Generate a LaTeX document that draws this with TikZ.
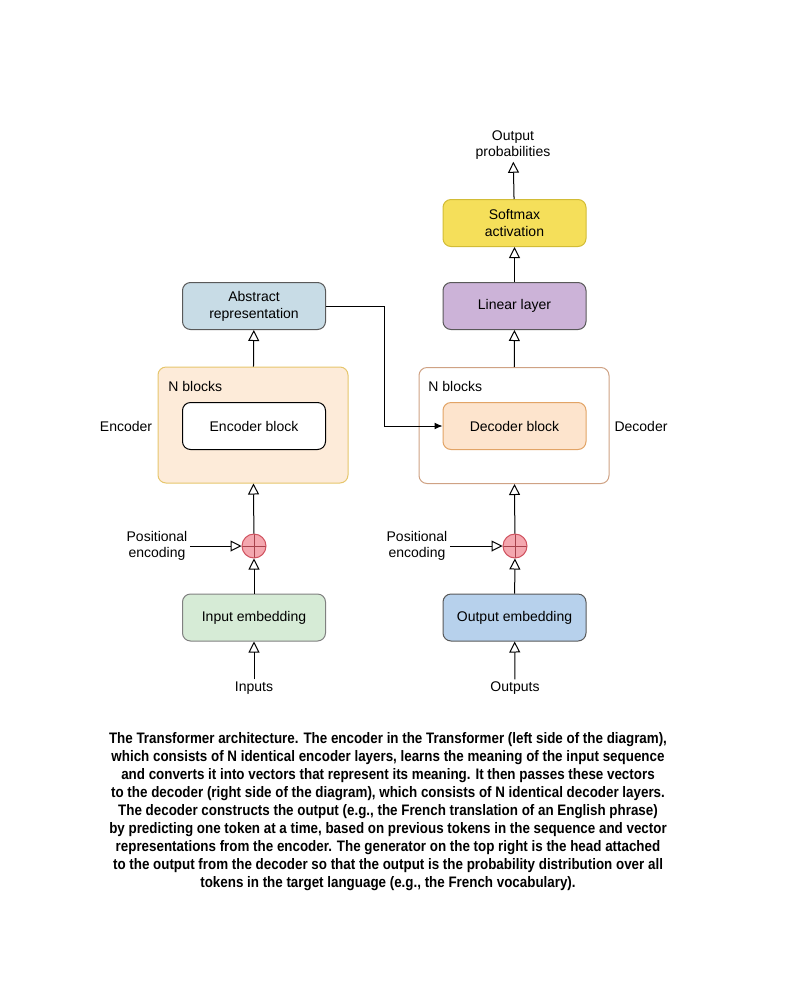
\documentclass[tikz,border=0pt]{standalone}
\usepackage{fontspec}
\setmainfont{Liberation Sans}
\newfontfamily\capfont[FakeStretch=0.88]{Liberation Sans}
\usepackage{tikz}
\usetikzlibrary{shapes,arrows,positioning,calc,arrows.meta}

\definecolor{absfill}{HTML}{C8DCE6}
\definecolor{encfill}{HTML}{FDEBD9}
\definecolor{encline}{HTML}{E6C66C}
\definecolor{decline}{HTML}{CFA284}
\definecolor{blkfill}{HTML}{FDE4CD}
\definecolor{blkline}{HTML}{E2A466}
\definecolor{softfill}{HTML}{F5DF5A}
\definecolor{softline}{HTML}{D2BC36}
\definecolor{linfill}{HTML}{CCB3D8}
\definecolor{inembfill}{HTML}{D6EBD6}
\definecolor{outembfill}{HTML}{B7D1EC}
\definecolor{addfill}{HTML}{F4A7AF}
\definecolor{addline}{HTML}{D0525F}

\tikzset{
    layer/.style={draw=black!65, rounded corners=4pt, minimum width=71.5pt, minimum height=23.5pt, align=center, font=\fontsize{7}{8.5}\selectfont, line width=0.5pt},
    stack/.style={rounded corners=4pt, minimum width=95pt, minimum height=58pt, line width=0.5pt},
    lbl/.style={align=center, font=\fontsize{7}{8}\selectfont, inner sep=1pt},
    adder/.style={circle, draw=addline, fill=addfill, minimum size=12pt, inner sep=0pt, line width=0.5pt,
        path picture={\draw[addline!80!black, line width=0.3pt] (path picture bounding box.north) -- (path picture bounding box.south)
            (path picture bounding box.west) -- (path picture bounding box.east);}},
    openarr/.style={-{Triangle[open, length=5.5pt, width=5.5pt]}, line width=0.5pt},
    fillarr/.style={-{Latex[length=4pt, width=3.5pt]}, line width=0.5pt}
}

\begin{document}
\begin{tikzpicture}[x=0.5pt, y=-0.5pt]
    \useasboundingbox (0,0) rectangle (788,1002);

    % encoder side
    \node [stack, draw=encline, fill=encfill] (encstack) at (253,425) {};
    \node [layer, draw=black, fill=white] (encblk) at (254,426) {Encoder block};
    \node [lbl, anchor=west] (encn) at (166,386) {N blocks};
    \node [lbl] (enclbl) at (126,426) {Encoder};
    \node [layer, fill=absfill, align=center] (abs) at (254,306) {Abstract\\representation};
    \node [adder] (addenc) at (254,546) {};
    \node [lbl] (posenc) at (157,546) {Positional\\encoding};
    \node [layer, draw=black!50, fill=inembfill] (inemb) at (254,617.5) {Input embedding};
    \node [lbl] (inputs) at (254,688) {Inputs};

    % decoder side
    \node [stack, draw=decline, fill=white] (decstack) at (514,425.5) {};
    \node [layer, draw=blkline, fill=blkfill] (decblk) at (514.5,426) {Decoder block};
    \node [lbl, anchor=west] (decn) at (426,386) {N blocks};
    \node [lbl] (declbl) at (641,426) {Decoder};
    \node [layer, fill=linfill] (linear) at (514.5,306) {Linear layer};
    \node [layer, draw=softline, fill=softfill] (softmax) at (514.5,223) {Softmax\\activation};
    \node [lbl] (outprob) at (513,145) {Output\\probabilities};
    \node [adder] (adddec) at (515,546) {};
    \node [lbl] (posdec) at (417,546) {Positional\\encoding};
    \node [layer, fill=outembfill] (outemb) at (514.5,617.5) {Output embedding};
    \node [lbl] (outputs) at (515,688) {Outputs};

    % connectors
    \draw [openarr] (inputs) -- (inemb);
    \draw [openarr] (inemb) -- (addenc);
    \draw [openarr] (posenc) -- (addenc);
    \draw [openarr] (addenc) -- (encstack);
    \draw [openarr] (encstack) -- (abs);
    \draw [fillarr] (abs.east) -- ++(58,0) |- (decblk.west);

    \draw [openarr] (outputs) -- (outemb);
    \draw [openarr] (outemb) -- (adddec);
    \draw [openarr] (posdec) -- (adddec);
    \draw [openarr] (adddec) -- (decstack);
    \draw [openarr] (decstack) -- (linear);
    \draw [openarr] (linear) -- (softmax);
    \draw [openarr] (softmax) -- (outprob);

    % caption
    \node [align=center, font=\capfont\bfseries\fontsize{7.6}{9}\selectfont] (caption) at (388,812) {%
        The Transformer architecture. The encoder in the Transformer (left side of the diagram),\\
        which consists of N identical encoder layers, learns the meaning of the input sequence\\
        and converts it into vectors that represent its meaning. It then passes these vectors\\
        to the decoder (right side of the diagram), which consists of N identical decoder layers.\\
        The decoder constructs the output (e.g., the French translation of an English phrase)\\
        by predicting one token at a time, based on previous tokens in the sequence and vector\\
        representations from the encoder. The generator on the top right is the head attached\\
        to the output from the decoder so that the output is the probability distribution over all\\
        tokens in the target language (e.g., the French vocabulary).};
\end{tikzpicture}
\end{document}
